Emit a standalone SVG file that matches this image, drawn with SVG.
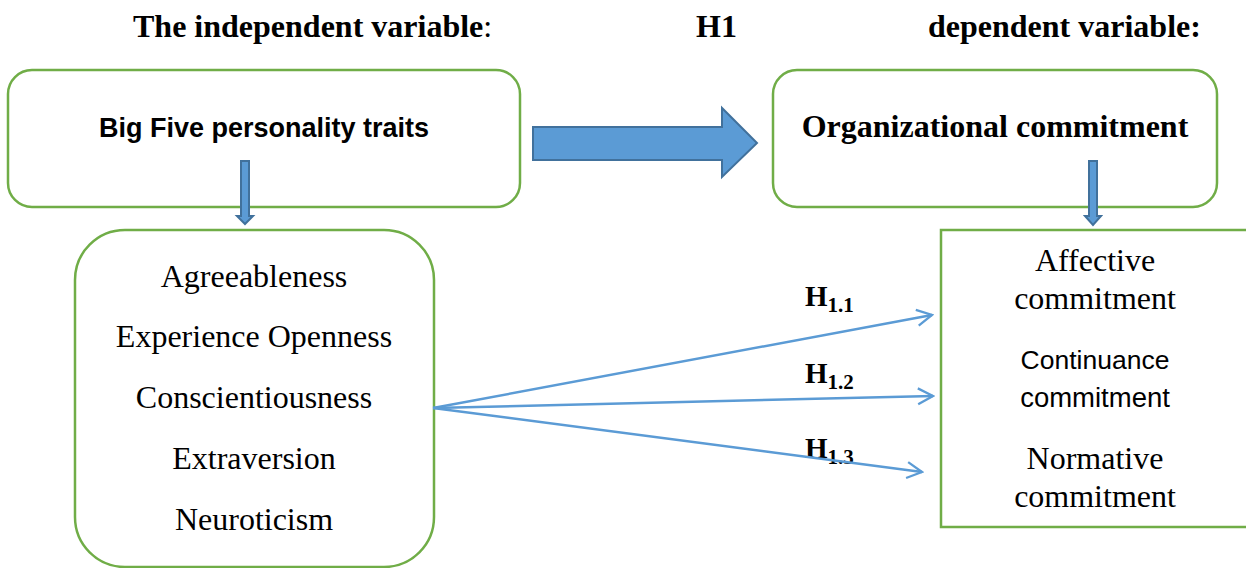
<svg xmlns="http://www.w3.org/2000/svg" width="1246" height="568" viewBox="0 0 1246 568">
<defs>
<style>
.box{fill:#fff;stroke:#70AD47;stroke-width:2.5}
.serif{font-family:"Liberation Serif","Times New Roman",serif;fill:#000}
.sans{font-family:"Liberation Sans",Arial,sans-serif;fill:#000}
.title{font-size:32px;font-weight:bold}
.item{font-size:32px}
.block{fill:#5B9BD5;stroke:#41719C;stroke-width:2}
.conn{stroke:#5B9BD5;stroke-width:2.5;fill:none}
.hl{font-size:29px;font-weight:bold}
.sub{font-size:21px;font-weight:bold}
</style>
<marker id="open" viewBox="0 0 20 20" refX="18" refY="10" markerWidth="20" markerHeight="20" markerUnits="userSpaceOnUse" orient="auto">
<path d="M3,2 L18,10 L3,18" fill="none" stroke="#5B9BD5" stroke-width="2.3"/>
</marker>
</defs>
<rect width="1246" height="568" fill="#fff"/>

<g id="titles">
<text class="serif title" x="133" y="37">The independent variable<tspan font-weight="normal">:</tspan></text>
<text class="serif title" x="696" y="37">H1</text>
<text class="serif title" x="928" y="37">dependent variable:</text>
</g>

<g id="node-bigfive">
<rect class="box" x="8" y="70" width="512" height="137" rx="24"/>
<text class="sans" x="264" y="137" font-size="27" font-weight="bold" text-anchor="middle">Big Five personality traits</text>
</g>

<g id="node-orgcommit">
<rect class="box" x="773" y="70" width="444" height="137" rx="24"/>
<text class="serif title" x="995" y="137" text-anchor="middle">Organizational commitment</text>
</g>

<g id="node-traits">
<rect class="box" x="75" y="230" width="359" height="337" rx="50"/>
<text class="serif item" x="254" y="287" text-anchor="middle">Agreeableness</text>
<text class="serif item" x="254" y="347" text-anchor="middle">Experience Openness</text>
<text class="serif item" x="254" y="408" text-anchor="middle">Conscientiousness</text>
<text class="serif item" x="254" y="469" text-anchor="middle">Extraversion</text>
<text class="serif item" x="254" y="530" text-anchor="middle">Neuroticism</text>
</g>

<g id="node-dimensions">
<rect class="box" x="941" y="230" width="330" height="297"/>
<text class="serif item" x="1095" y="271" text-anchor="middle">Affective</text>
<text class="serif item" x="1095" y="309" text-anchor="middle">commitment</text>
<text class="sans" x="1095" y="369" font-size="26.5" text-anchor="middle">Continuance</text>
<text class="sans" x="1095" y="407" font-size="27.5" text-anchor="middle">commitment</text>
<text class="serif item" x="1095" y="469" text-anchor="middle">Normative</text>
<text class="serif item" x="1095" y="507" text-anchor="middle">commitment</text>
</g>

<g id="labels">
<text class="serif hl" x="805" y="306">H<tspan class="sub" dy="6">1.1</tspan></text>
<text class="serif hl" x="805" y="383">H<tspan class="sub" dy="6">1.2</tspan></text>
<text class="serif hl" x="805" y="458">H<tspan class="sub" dy="6">1.3</tspan></text>
</g>

<g id="connectors">
<path class="block" d="M533,127 L722,127 L722,108 L757,143 L722,177 L722,160 L533,160 Z"/>
<path class="block" d="M241,161 L249,161 L249,216 L253,216 L245,224 L237,216 L241,216 Z"/>
<path class="block" d="M1089,161 L1097,161 L1097,216 L1101,216 L1093,225 L1085,216 L1089,216 Z"/>
<line class="conn" x1="433" y1="408" x2="932" y2="315" marker-end="url(#open)"/>
<line class="conn" x1="433" y1="408" x2="933" y2="396" marker-end="url(#open)"/>
<line class="conn" x1="433" y1="408" x2="922" y2="472" marker-end="url(#open)"/>
</g>
</svg>
